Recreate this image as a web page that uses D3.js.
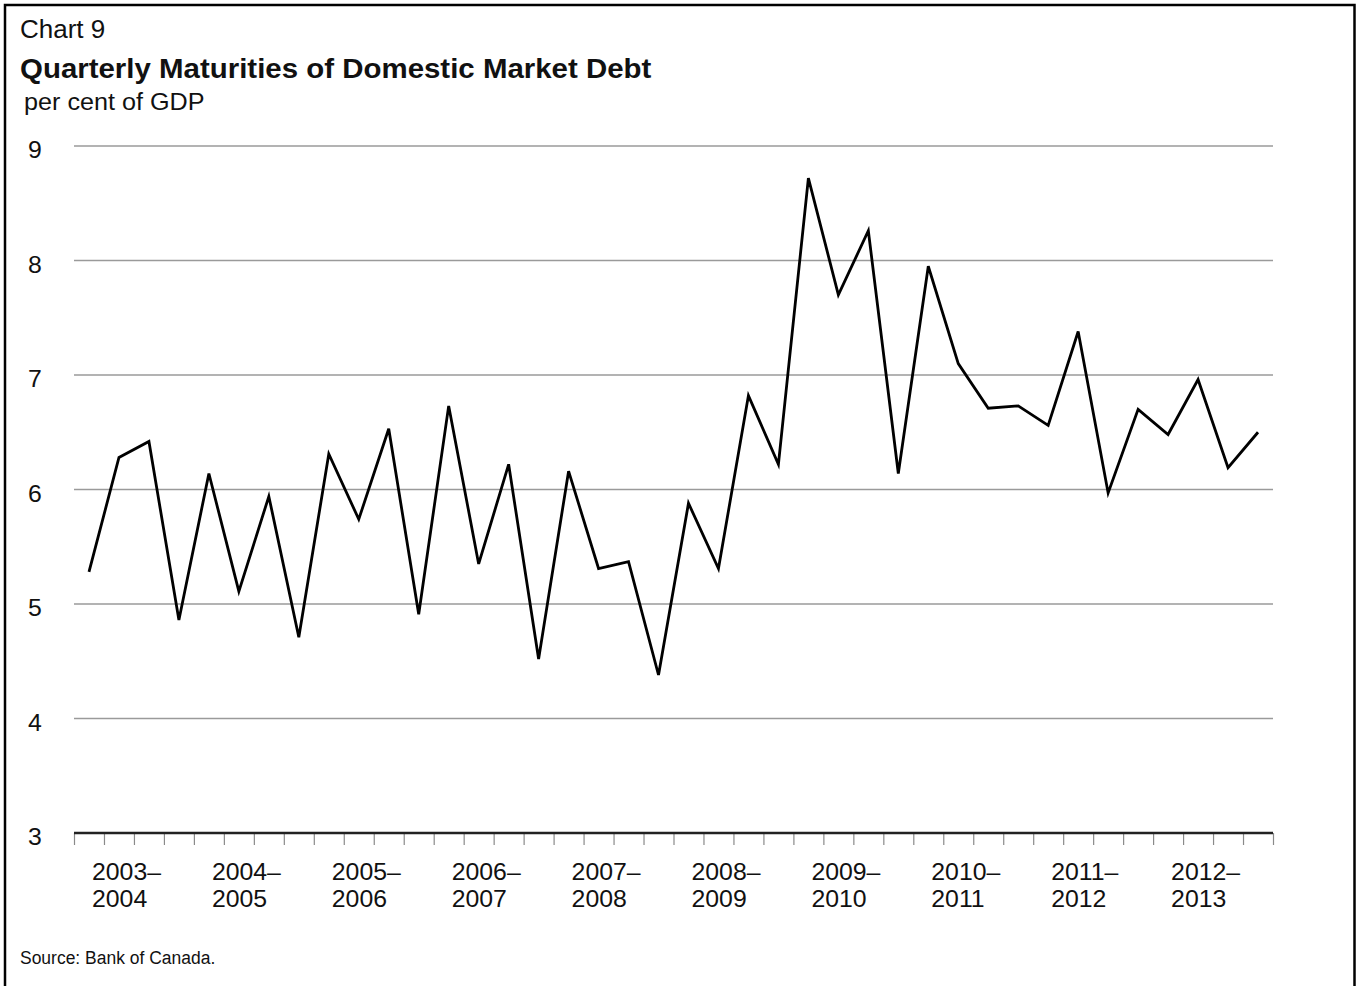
<!DOCTYPE html>
<html>
<head>
<meta charset="utf-8">
<script src="https://cdn.jsdelivr.net/npm/d3@7"></script>
<style>
  html, body { margin: 0; padding: 0; background: #fff; }
  svg { display: block; }
  text { font-family: "Liberation Sans", Arial, Helvetica, sans-serif; fill: #111; }
</style>
</head>
<body>
<svg id="chart" width="1359" height="986"></svg>
<script>
// ---- data ----
const fiscalYearTop = ["2003–", "2004–", "2005–", "2006–", "2007–", "2008–", "2009–", "2010–", "2011–", "2012–"];
const fiscalYearBottom = ["2004", "2005", "2006", "2007", "2008", "2009", "2010", "2011", "2012", "2013"];
const quartersPerYear = 4;
const maturities = [
  5.28, 6.28, 6.42, 4.86,
  6.14, 5.11, 5.94, 4.71,
  6.31, 5.74, 6.53, 4.91,
  6.73, 5.35, 6.22, 4.52,
  6.16, 5.31, 5.37, 4.38,
  5.88, 5.31, 6.82, 6.22,
  8.72, 7.70, 8.26, 6.14,
  7.95, 7.10, 6.71, 6.73,
  6.56, 7.38, 5.97, 6.70,
  6.48, 6.96, 6.19, 6.50
];
const yTicks = [3, 4, 5, 6, 7, 8, 9];
const chartLabel = "Chart 9";
const chartTitle = "Quarterly Maturities of Domestic Market Debt";
const unitLabel = "per cent of GDP";
const sourceNote = "Source: Bank of Canada.";

// ---- layout ----
const svg = d3.select("#chart");
const plotLeft = 74, plotRight = 1273, plotTop = 146, plotBottom = 833;
const nQ = fiscalYearTop.length * quartersPerYear;

const x = d3.scaleLinear().domain([0, nQ]).range([plotLeft, plotRight]);
const y = d3.scaleLinear().domain([3, 9]).range([plotBottom, plotTop]);

function stretchText(g, str, px, py, size, sx, opts = {}) {
  return g.append("text")
    .attr("transform", `translate(${px},${py}) scale(${sx},1)`)
    .attr("font-size", size)
    .attr("font-weight", opts.weight || "normal")
    .attr("text-anchor", opts.anchor || "start")
    .text(str);
}

// frame
svg.append("rect")
  .attr("x", 5).attr("y", 5).attr("width", 1349.5).attr("height", 995)
  .attr("fill", "none").attr("stroke", "#000").attr("stroke-width", 2.5);

// titles
stretchText(svg, chartLabel, 20, 38, 26, 1.0);
stretchText(svg, chartTitle, 20, 78, 28.5, 1.033, { weight: "bold" });
stretchText(svg, unitLabel, 24, 110, 24, 1.05);

// gridlines
svg.append("g").selectAll("line")
  .data(yTicks.filter(d => d > 3))
  .join("line")
  .attr("x1", plotLeft).attr("x2", plotRight)
  .attr("y1", d => y(d)).attr("y2", d => y(d))
  .attr("stroke", "#9a9a9a").attr("stroke-width", 1.5);

// y labels
const yl = svg.append("g");
yTicks.forEach(t => stretchText(yl, String(t), 28, y(t) + 12, 23, 1.08));

// x axis ticks
const xAxis = d3.axisBottom(x)
  .tickValues(d3.range(nQ + 1))
  .tickFormat("")
  .tickSize(12)
  .tickSizeOuter(0);
const xg = svg.append("g").attr("transform", `translate(0,${plotBottom})`).call(xAxis);
xg.select(".domain").remove();
xg.selectAll(".tick line").attr("stroke", "#8a8a8a").attr("stroke-width", 1.2);

// axis baseline
svg.append("line")
  .attr("x1", plotLeft).attr("x2", plotRight)
  .attr("y1", y(3)).attr("y2", y(3))
  .attr("stroke", "#222").attr("stroke-width", 2.5);

// year labels
const xl = svg.append("g");
fiscalYearTop.forEach((lab, i) => {
  const x0 = x(i * quartersPerYear) + 18;
  stretchText(xl, lab, x0, 880, 23, 1.08);
  stretchText(xl, fiscalYearBottom[i], x0, 907, 23, 1.08);
});

// series line
const line = d3.line()
  .x((d, i) => x(i + 0.5))
  .y(d => y(d));
svg.append("path")
  .datum(maturities)
  .attr("d", line)
  .attr("fill", "none")
  .attr("stroke", "#000")
  .attr("stroke-width", 2.8)
  .attr("stroke-linejoin", "miter");

// source
stretchText(svg, sourceNote, 20, 964, 19, 0.92);
</script>
</body>
</html>
